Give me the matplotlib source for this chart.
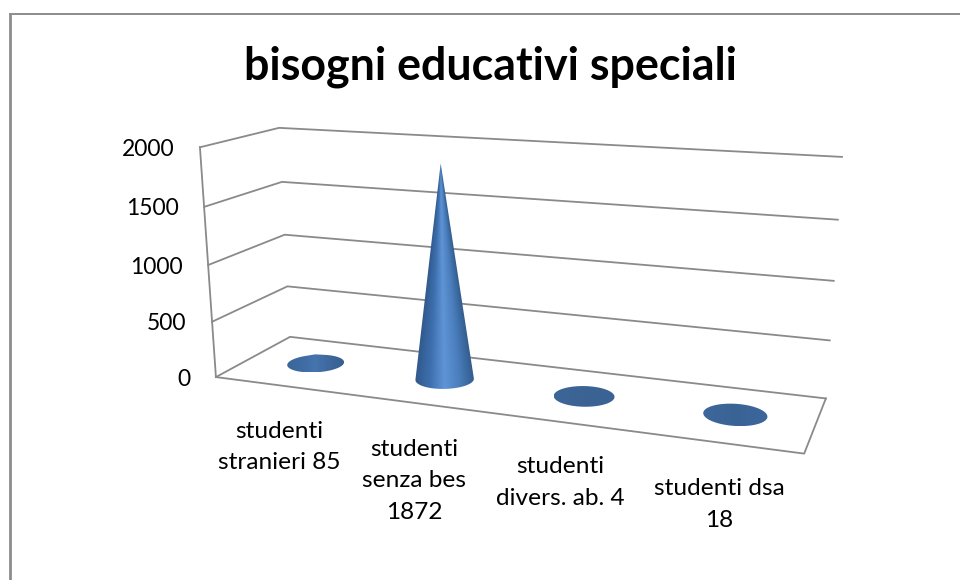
import numpy as np
import matplotlib
matplotlib.use("Agg")
import matplotlib.pyplot as plt
from matplotlib.colors import LinearSegmentedColormap
from matplotlib.patches import Polygon

plt.rcParams['font.family'] = ['Lato', 'DejaVu Sans']

# Data
title = "bisogni educativi speciali"
labels = ["studenti\nstranieri 85", "studenti\nsenza bes\n1872", "studenti\ndivers. ab. 4", "studenti dsa\n18"]
values = [85, 1872, 4, 18]
ticks = [0, 500, 1000, 1500, 2000]

# where the box corners land in the picture: (category, depth, value) -> (px, py)
zmax = ticks[-1]
ncat = len(values)
corners = [
    ((0, 0, 0), (216, 377)),
    ((0, 1, 0), (290, 337)),
    ((ncat, 1, 0), (826, 398)),
    ((ncat, 0, 0), (804, 454)),
    ((0, 0, zmax), (200, 147)),
    ((0, 1, zmax), (279, 128)),
    ((ncat, 1, zmax), (842, 157)),
]

# camera matrix fitted to the corners
A, b = [], []
for (x, d, z), (px, py) in corners:
    z = z / zmax
    A.append([x, d, z, 1, 0, 0, 0, 0, -px * x, -px * d, -px * z])
    A.append([0, 0, 0, 0, x, d, z, 1, -py * x, -py * d, -py * z])
    b += [px, py]
P = np.append(np.linalg.lstsq(np.array(A, float), np.array(b, float), rcond=None)[0], 1).reshape(3, 4)


def project(x, d, z):
    v = P @ np.array([x, d, z / zmax, 1.0])
    return v[0] / v[2], v[1] / v[2]


def hull(pts):
    pts = sorted(set(pts))
    def half(seq):
        out = []
        for p in seq:
            while len(out) > 1 and (out[-1][0] - out[-2][0]) * (p[1] - out[-2][1]) - (out[-1][1] - out[-2][1]) * (p[0] - out[-2][0]) <= 0:
                out.pop()
            out.append(p)
        return out[:-1]
    return half(pts) + half(pts[::-1])


fig = plt.figure(figsize=(9.6, 5.8), dpi=100)
ax = fig.add_axes([0, 0, 1, 1])
ax.set_xlim(0, 960)
ax.set_ylim(580, 0)
ax.axis("off")

# chart frame, only left and top show
ax.plot([10, 10], [580, 14], color="#8c8c8c", lw=2, solid_capstyle="butt")
ax.plot([9, 960], [14, 14], color="#8c8c8c", lw=1.4, solid_capstyle="butt")

ax.text(490, 67, title, ha="center", va="center", fontsize=32.2, fontweight="bold", color="black")

# walls and gridlines
grid = "#8a8a8a"
for t in ticks:
    a, m, e = project(0, 0, t), project(0, 1, t), project(ncat, 1, t)
    ax.plot([a[0], m[0], e[0]], [a[1], m[1], e[1]], color=grid, lw=1.3, solid_joinstyle="miter")
    ax.text(a[0] - 25.5, a[1] + 2, str(t), ha="right", va="center", fontsize=16.5, color="black")
ax.plot(*zip(project(0, 0, 0), project(0, 0, zmax)), color=grid, lw=1.3)
ax.plot(*zip(project(0, 0, 0), project(ncat, 0, 0), project(ncat, 1, 0)), color=grid, lw=1.3)

# category labels
label_pos = [(279, 420.5), (414, 438.5), (560, 456), (719, 478)]
for s, (lx, ly) in zip(labels, label_pos):
    ax.text(lx, ly, s, ha="center", va="top", fontsize=17.6, color="black", linespacing=1.64)

# cones
shades = [
    LinearSegmentedColormap.from_list("c1", ["#3c6699", "#3f6ba3", "#4674ae", "#3d689e", "#375f90"]),
    LinearSegmentedColormap.from_list("c2", ["#31598b", "#3d6fae", "#5f94d6", "#4a7ebd", "#335d8e"]),
    LinearSegmentedColormap.from_list("c3", ["#3d6698", "#3b6394", "#3b6394"]),
    LinearSegmentedColormap.from_list("c4", ["#3d679c", "#3a6395", "#3d679c"]),
]
radius = 0.2
theta = np.linspace(0, 2 * np.pi, 90, endpoint=False)
for i, v in enumerate(values):
    cx, cd = i + 0.5, 0.5
    base = [project(cx + radius * np.cos(t), cd + radius * np.sin(t), 0) for t in theta]
    tip = project(cx, cd, v)
    outline = hull(base + [tip])
    xs, ys = zip(*outline)
    x0, x1, y0, y1 = min(xs), max(xs), min(ys), max(ys)
    gx, gy = np.meshgrid(np.linspace(x0, x1, 200), np.linspace(y0, y1, 300))
    bx, by = project(cx, cd, 0)
    hw = (x1 - x0) / 2
    if by - tip[1] > 40:
        # shade follows the cone's taper
        f = np.clip((gy - tip[1]) / (by - tip[1]), 0.01, 1)
        mid = tip[0] + (bx - tip[0]) * f
        s = (gx - mid) / (hw * f)
    else:
        s = (gx - bx) / hw
    s = np.clip((s + 1) / 2, 0, 1)
    im = ax.imshow(s, extent=(x0, x1, y1, y0), cmap=shades[i], vmin=0, vmax=1, aspect="auto", zorder=3, interpolation="bilinear")
    im.set_clip_path(Polygon(outline, closed=True, transform=ax.transData))
ax.set_xlim(0, 960)
ax.set_ylim(580, 0)

fig.savefig("out.png", dpi=100, facecolor="white")
